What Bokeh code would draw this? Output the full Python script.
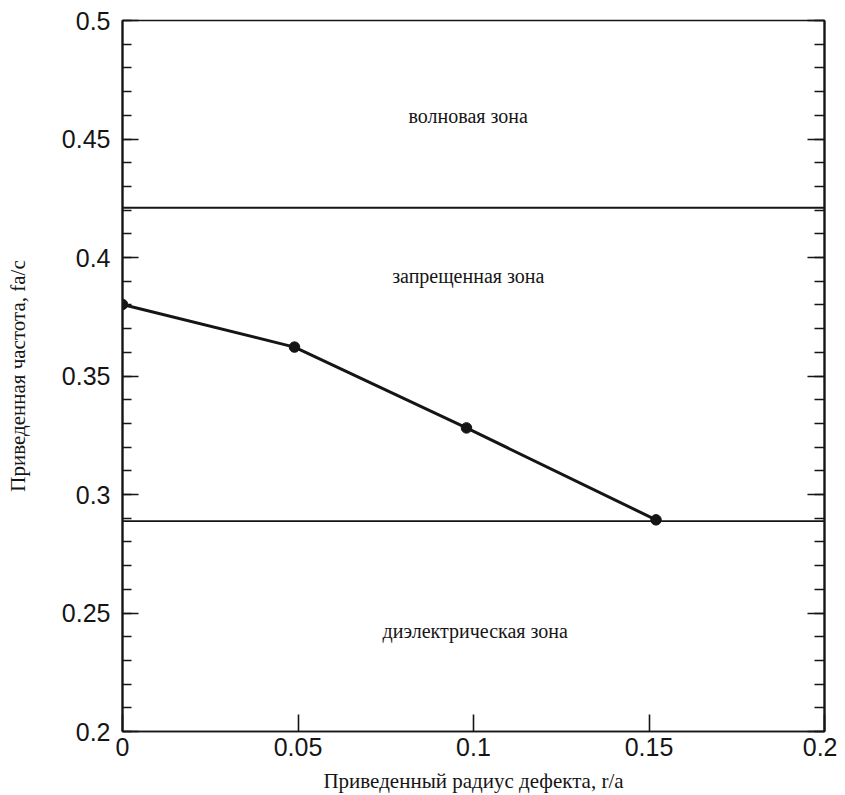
from bokeh.plotting import figure
from bokeh.models import (ColumnDataSource, FixedTicker, LinearAxis, Span, Range1d,
                          CustomJSTickFormatter)
from bokeh.core.properties import value
from bokeh.embed import file_html
from bokeh.resources import INLINE

# ---- data ----
r_over_a = [0.0, 0.049, 0.098, 0.152]
freq = [0.3802, 0.3622, 0.3281, 0.2893]

band_upper_edge = 0.421   # air band edge
band_lower_edge = 0.2888  # dielectric band edge

zone_labels = ["волновая зона", "запрещенная зона", "диэлектрическая зона"]
zone_x = [0.0985, 0.0985, 0.1005]
zone_y = [0.4595, 0.3924, 0.2426]

x_ticks = [0.0, 0.05, 0.1, 0.15, 0.2]
x_tick_labels = ["0", "0.05", "0.1", "0.15", "0.2"]
y_ticks = [0.2, 0.25, 0.3, 0.35, 0.4, 0.45, 0.5]
y_tick_labels = ["0.2", "0.25", "0.3", "0.35", "0.4", "0.45", "0.5"]
y_minor = [0.2 + 0.01 * i for i in range(31)]

x_title = "Приведенный радиус дефекта, r/a"
y_title = "Приведенная частота, fa/c"

INK = "#151515"

p = figure(
    frame_width=702, frame_height=711,
    min_border_left=122, min_border_top=20, min_border_right=13, min_border_bottom=62,
    x_range=Range1d(x_ticks[0], x_ticks[-1]), y_range=Range1d(y_ticks[0], y_ticks[-1]),
    output_backend="svg", toolbar_location=None,
    x_axis_type=None, y_axis_type=None,
)
p.grid.visible = False
p.outline_line_color = INK
p.outline_line_width = 1.5
p.background_fill_color = "white"
p.border_fill_color = "white"

# bottom axis
xa = LinearAxis(ticker=FixedTicker(ticks=x_ticks, minor_ticks=[]))
xa.major_label_overrides = {t: s for t, s in zip(x_ticks, x_tick_labels)}
xa.major_tick_in = 17
xa.major_tick_out = 0
xa.minor_tick_in = 0
xa.minor_tick_out = 0
xa.axis_line_width = 1.5
xa.axis_line_color = INK
xa.major_tick_line_color = INK
xa.major_tick_line_width = 1.6
xa.major_label_text_font = "Liberation Sans"
xa.major_label_text_font_size = "25px"
xa.major_label_text_color = INK
xa.major_label_standoff = 6
xa.axis_label = x_title
xa.axis_label_text_font = "Liberation Serif"
xa.axis_label_text_font_style = "normal"
xa.axis_label_text_font_size = "21px"
xa.axis_label_text_color = INK
xa.axis_label_standoff = 10
p.add_layout(xa, "below")

# left axis
ya = LinearAxis(ticker=FixedTicker(ticks=y_ticks, minor_ticks=y_minor))
ya.major_label_overrides = {t: s for t, s in zip(y_ticks, y_tick_labels)}
ya.major_tick_in = 16
ya.major_tick_out = 0
ya.minor_tick_in = 9
ya.minor_tick_out = 0
ya.axis_line_width = 2.2
ya.axis_line_color = INK
ya.major_tick_line_color = INK
ya.minor_tick_line_color = INK
ya.major_tick_line_width = 1.6
ya.minor_tick_line_width = 1.6
ya.major_label_text_font = "Liberation Sans"
ya.major_label_text_font_size = "25px"
ya.major_label_text_color = INK
ya.major_label_standoff = 12
ya.axis_label = y_title
ya.axis_label_text_font = "Liberation Serif"
ya.axis_label_text_font_style = "normal"
ya.axis_label_text_font_size = "21px"
ya.axis_label_text_color = INK
ya.axis_label_standoff = 29
p.add_layout(ya, "left")

# right axis (ticks only)
ra = LinearAxis(ticker=FixedTicker(ticks=y_ticks, minor_ticks=y_minor))
ra.formatter = CustomJSTickFormatter(code="return ''")
ra.major_tick_in = 17
ra.major_tick_out = 0
ra.minor_tick_in = 10
ra.minor_tick_out = 0
ra.axis_line_width = 2.2
ra.axis_line_color = INK
ra.major_tick_line_color = INK
ra.minor_tick_line_color = INK
ra.major_tick_line_width = 1.6
ra.minor_tick_line_width = 1.6
ra.major_label_standoff = 0
p.add_layout(ra, "right")

# band edges
p.add_layout(Span(location=band_upper_edge, dimension="width", line_color=INK, line_width=1.8))
p.add_layout(Span(location=band_lower_edge, dimension="width", line_color=INK, line_width=1.8))

# defect mode curve
src = ColumnDataSource(dict(x=r_over_a, y=freq))
p.line("x", "y", source=src, line_color=INK, line_width=3)
p.scatter("x", "y", source=src, size=10.5, fill_color=INK, line_color=INK)

# zone labels
zsrc = ColumnDataSource(dict(x=zone_x, y=zone_y, t=zone_labels))
p.text("x", "y", text="t", source=zsrc, text_font=value("Liberation Serif"),
       text_font_size="20px", text_align="center", text_baseline="middle", text_color=INK)

open("out.html", "w").write(file_html(p, INLINE))
